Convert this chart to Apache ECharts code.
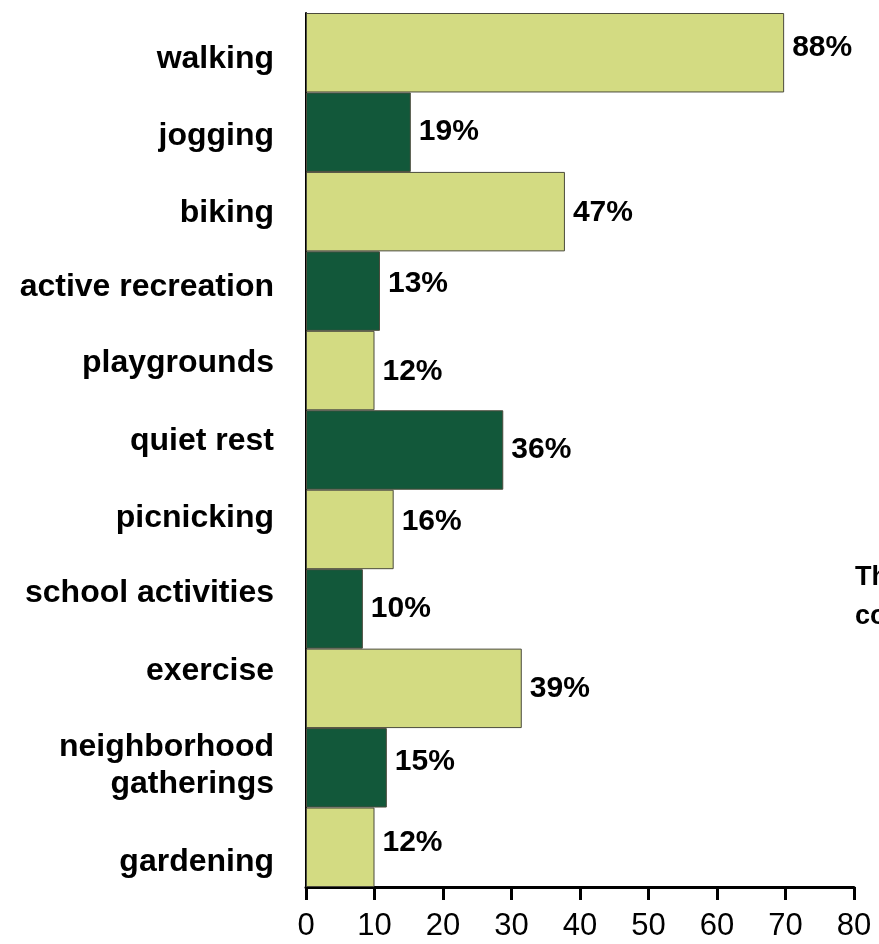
<!DOCTYPE html>
<html>
<head>
<meta charset="utf-8">
<script src="https://cdn.jsdelivr.net/npm/echarts@6/dist/echarts.min.js"></script>
<style>
  html, body { margin: 0; padding: 0; background: #fff; }
  #chart { width: 879px; height: 944px; }
</style>
</head>
<body>
<div id="chart"></div>
<script>
// activities, top to bottom
var categories = ['walking', 'jogging', 'biking', 'active recreation', 'playgrounds',
    'quiet rest', 'picnicking', 'school activities', 'exercise',
    'neighborhood\ngatherings', 'gardening'];
// bar length on the axis (as drawn)
var barValues = [69.8, 15.3, 37.8, 10.8, 10.0, 28.8, 12.8, 8.3, 31.5, 11.8, 10.0];
// percentage printed next to each bar
var percentLabels = ['88%', '19%', '47%', '13%', '12%', '36%', '16%', '10%', '39%', '15%', '12%'];
var xTicks = [0, 10, 20, 30, 40, 50, 60, 70, 80];

// the source labels don't sit exactly on the bar centres, nudge them (px)
var catLabelNudge = [6, 4, 2, -4, -7, -9, -11, -16, -17, -2, 15];
var valLabelNudge = [-5, 0, 1, -7, 1, 0, -8, 0, 0, -6, -5];

var light = '#d3db82';
var dark = '#12583a';
var FONT = 'Liberation Sans, Arial, sans-serif';

var chart = echarts.init(document.getElementById('chart'));

var data = barValues.map(function (v, i) {
    return {
        value: v,
        itemStyle: { color: i % 2 === 0 ? light : dark },
        label: { offset: [0, valLabelNudge[i]] }
    };
});

// one rich style per category so each label can be shifted on its own
var rich = {};
categories.forEach(function (c, i) {
    var n = catLabelNudge[i];
    rich['c' + i] = {
        fontFamily: FONT,
        fontWeight: 'bold',
        fontSize: 32,
        lineHeight: 37,
        color: '#000',
        align: 'right',
        padding: n < 0 ? [0, 0, -2 * n, 0] : [2 * n, 0, 0, 0]
    };
});

var option = {
    animation: false,
    grid: { left: 306, right: 25, top: 13, bottom: 57 },
    xAxis: {
        type: 'value',
        min: xTicks[0],
        max: xTicks[xTicks.length - 1],
        interval: 10,
        splitLine: { show: false },
        axisLine: { show: true, lineStyle: { color: '#000', width: 3 } },
        axisTick: { show: true, length: 13, lineStyle: { color: '#000', width: 3 } },
        axisLabel: {
            color: '#000',
            fontFamily: FONT,
            fontSize: 31,
            margin: 24
        }
    },
    yAxis: {
        type: 'category',
        inverse: true,
        data: categories,
        axisLine: { show: true, lineStyle: { color: '#000', width: 2 } },
        axisTick: { show: false },
        axisLabel: {
            margin: 32,
            align: 'right',
            formatter: function (v, i) {
                return v.split('\n').map(function (s) {
                    return '{c' + i + '|' + s + '}';
                }).join('\n');
            },
            rich: rich
        }
    },
    series: [{
        type: 'bar',
        data: data,
        barCategoryGap: 0,
        itemStyle: { borderColor: '#4b4b3c', borderWidth: 1 },
        label: {
            show: true,
            position: 'right',
            distance: 8,
            color: '#000',
            fontFamily: FONT,
            fontWeight: 'bold',
            fontSize: 30,
            formatter: function (p) { return percentLabels[p.dataIndex]; }
        }
    }],
    graphic: [
        { type: 'text', left: 855, top: 564, style: { text: 'The', fill: '#000', font: 'bold 27px ' + FONT } },
        { type: 'text', left: 855, top: 603, style: { text: 'community', fill: '#000', font: 'bold 27px ' + FONT } }
    ]
};

chart.setOption(option);
</script>
</body>
</html>
